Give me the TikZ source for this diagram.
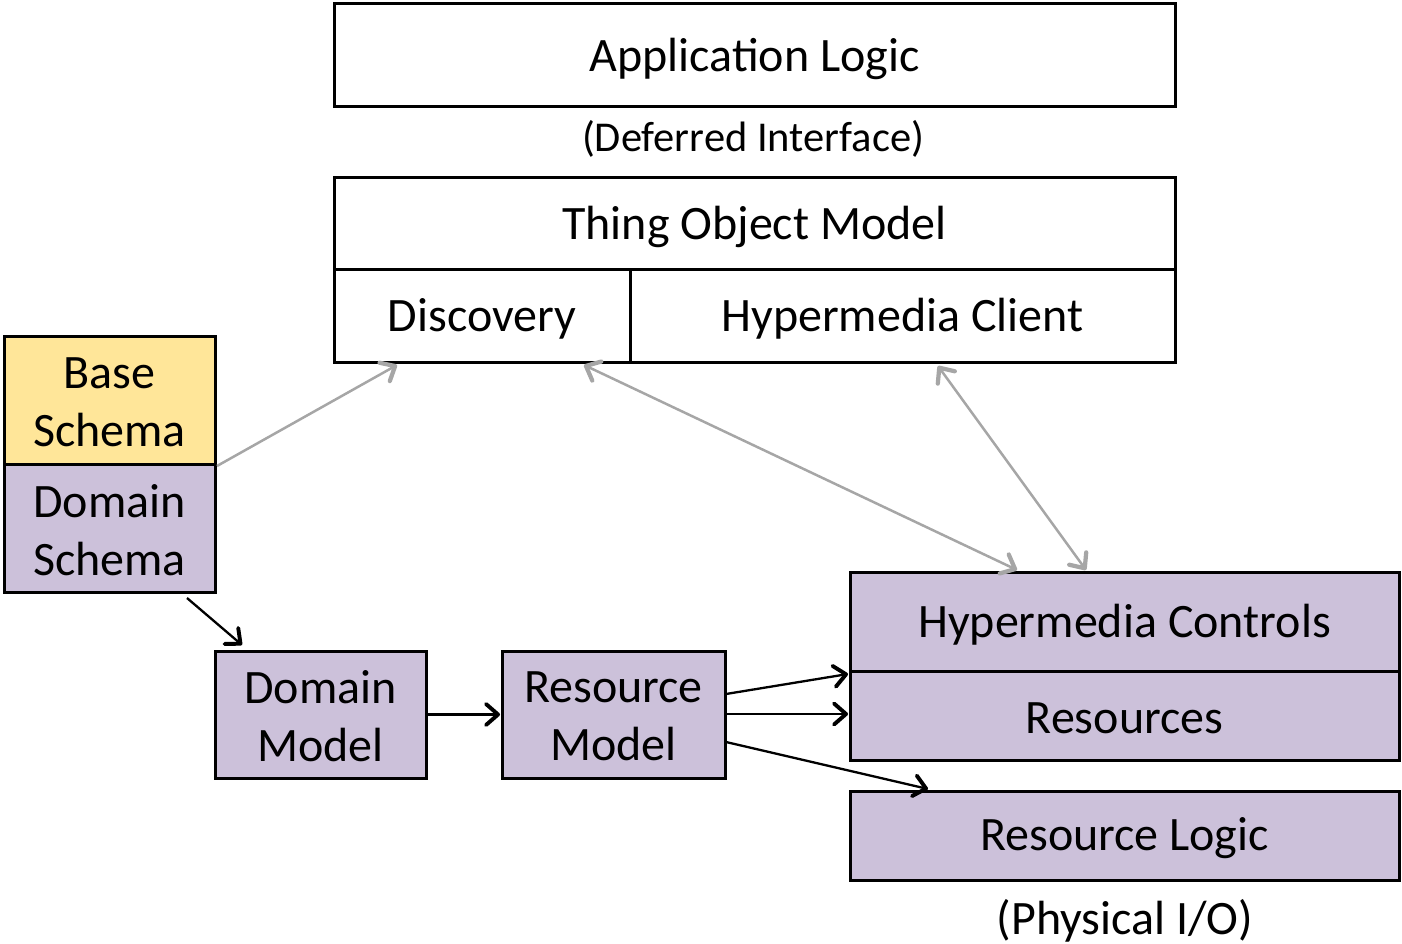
\documentclass[tikz,border=0pt]{standalone}
\usepackage{fontspec}
\setmainfont{Carlito}
\usetikzlibrary{arrows.meta,calc}
\definecolor{basefill}{HTML}{FFE699}
\definecolor{domfill}{HTML}{CCC1DA}
\definecolor{linkgray}{HTML}{A6A6A6}
\tikzset{
  blk/.style={draw=black, line width=3pt, inner sep=0pt, outer sep=0pt, anchor=north west},
  txt/.style={font=\fontsize{48}{58}\selectfont, align=center, inner sep=0pt},
  wbox/.style={blk, fill=white},
  pbox/.style={blk, fill=domfill},
  ybox/.style={blk, fill=basefill},
  tip/.tip={Straight Barb[length=12pt, width=21pt, line width=0pt 1.7, round]},
  blackarrow/.style={draw=black, line width=2.3pt, -tip},
  grayarrow/.style={draw=linkgray, line width=2.5pt, -tip},
  graydouble/.style={draw=linkgray, line width=2.5pt, tip-tip},
  note/.style={txt}
}
% box: style, name, north-west corner, width, height, text shift, text
\newcommand{\bx}[7]{\node[#1, minimum width=#4pt, minimum height=#5pt,
  label={[txt, yshift=-#6pt]center:{#7}}] (#2) at #3 {};}
\begin{document}
\begin{tikzpicture}[x=1pt, y=-1pt]
  \useasboundingbox (0,0) rectangle (1402,944);

  % top layers
  \bx{wbox}{app}{(334,4)}{841}{103}{3}{Application Logic}
  \node[note, font=\fontsize{42.5}{50}\selectfont] (defer) at (753,139) {(Deferred Interface)};
  \bx{wbox}{tom}{(334,178)}{841}{91}{3}{Thing Object Model}
  \bx{wbox}{disc}{(334,269)}{296}{93}{3}{Discovery}
  \bx{wbox}{hcli}{(630,269)}{545}{93}{3}{Hypermedia Client}

  % schemas
  \bx{ybox}{bschema}{(4,336)}{211}{128}{2}{Base\\Schema}
  \bx{pbox}{dschema}{(4,464)}{211}{128}{2}{Domain\\Schema}

  % models
  \bx{pbox}{dmodel}{(215,651)}{211}{127}{2}{Domain\\Model}
  \bx{pbox}{rmodel}{(502,651)}{223}{127}{2}{Resource\\Model}

  % resource side
  \bx{pbox}{hctl}{(850,572)}{549}{99}{3}{Hypermedia Controls}
  \bx{pbox}{res}{(850,671)}{549}{89}{3}{Resources}
  \bx{pbox}{rlogic}{(850,791)}{549}{89}{3}{Resource Logic}
  \node[note] (phys) at (1125,921) {(Physical I/O)};

  % gray links
  \draw[grayarrow] ($(dschema.north east)+(2,2)$) -- ($(disc.south west)+(63,3)$);
  \draw[graydouble] ($(disc.south west)+(250,3)$) -- ($(hctl.north west)+(167,-2)$);
  \draw[graydouble] ($(hcli.south west)+(308,4)$) -- ($(hctl.north west)+(236,-2)$);

  % black flow
  \draw[blackarrow] ($(dschema.south east)+(-28,6)$) -- ($(dmodel.north west)+(27,-6)$);
  \draw[blackarrow] (dmodel.east) -- ($(rmodel.west)+(-2,0)$);
  \draw[blackarrow] ($(rmodel.north east)+(1,43)$) -- ($(res.north west)+(-2,3)$);
  \draw[blackarrow] ($(rmodel.north east)+(1,63)$) -- ($(res.north west)+(-2,43)$);
  \draw[blackarrow] ($(rmodel.north east)+(1,91)$) -- ($(rlogic.north west)+(78,-2)$);
\end{tikzpicture}
\end{document}
